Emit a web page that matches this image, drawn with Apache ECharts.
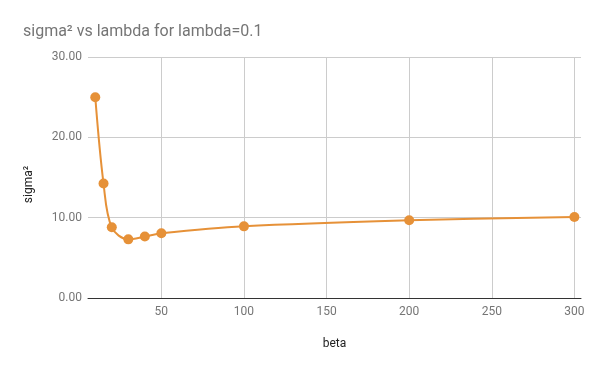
<!DOCTYPE html>
<html>
<head>
<meta charset="utf-8">
<script src="https://cdn.jsdelivr.net/npm/echarts@6/dist/echarts.min.js"></script>
<style>html,body{margin:0;padding:0;background:#fff}#c{width:600px;height:371px}</style>
</head>
<body>
<div id="c"></div>
<script>
const betaValues = [10, 15, 20, 30, 40, 50, 100, 200, 300];
const sigma2Values = [25.0, 14.25, 8.8, 7.3, 7.65, 8.05, 8.92, 9.67, 10.09];
const xTickValues = [50, 100, 150, 200, 250, 300];
const yTickValues = [0, 10, 20, 30];

const chart = echarts.init(document.getElementById('c'), null, {renderer: 'canvas'});
const font = 'Roboto, Arial, sans-serif';
chart.setOption({
  animation: false,
  backgroundColor: '#ffffff',
  title: {
    text: 'sigma² vs lambda for lambda=0.1',
    left: 18, top: 19,
    textStyle: {fontFamily: font, fontSize: 16, fontWeight: 'normal', color: '#757575'}
  },
  grid: {left: 88, right: 19, top: 57, bottom: 73, containLabel: false},
  xAxis: {
    type: 'value',
    min: 5.6, max: 304,
    name: 'beta',
    nameLocation: 'middle',
    nameGap: 46,
    nameTextStyle: {fontFamily: font, fontSize: 12, color: '#222', verticalAlign: 'middle'},
    axisLine: {show: true, lineStyle: {color: '#333', width: 1}},
    axisTick: {show: false, customValues: xTickValues},
    axisLabel: {customValues: xTickValues, fontFamily: font, fontSize: 12, color: '#757575', margin: 8},
    splitLine: {show: true, lineStyle: {color: '#cccccc', width: 1}}
  },
  yAxis: {
    type: 'value',
    min: 0, max: 30, interval: 10,
    name: 'sigma²',
    nameLocation: 'middle',
    nameRotate: 90,
    nameGap: 59,
    nameTextStyle: {fontFamily: font, fontSize: 12, color: '#222', verticalAlign: 'middle', padding: [0, 14, 0, 0]},
    axisLine: {show: false},
    axisTick: {show: false},
    axisLabel: {fontFamily: font, fontSize: 12, color: '#757575', margin: 6,
      formatter: v => v.toFixed(2)},
    splitLine: {show: true, lineStyle: {color: '#cccccc', width: 1}}
  },
  series: [{
    type: 'line',
    data: betaValues.map((b, i) => [b, sigma2Values[i]]),
    smooth: 0.35,
    symbol: 'circle',
    symbolSize: 10,
    itemStyle: {color: '#e69138'},
    lineStyle: {color: '#e69138', width: 2},
    z: 3
  }]
});
</script>
</body>
</html>
